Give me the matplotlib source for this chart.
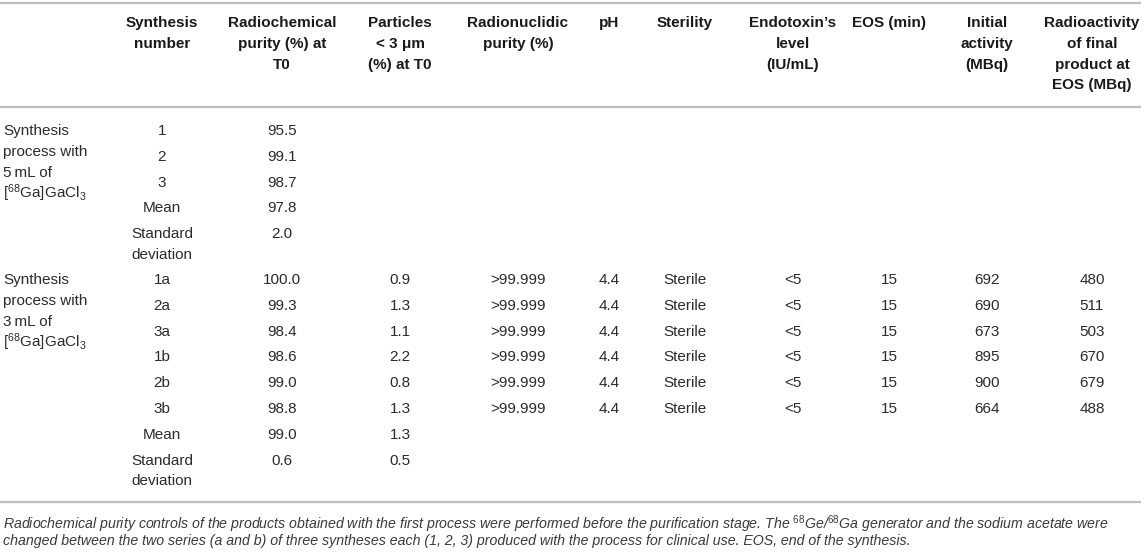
import numpy as np
import matplotlib.pyplot as plt

plt.rcParams['font.family'] = ['Liberation Sans', 'DejaVu Sans']
plt.rcParams['mathtext.fontset'] = 'custom'
plt.rcParams['mathtext.rm'] = 'Liberation Sans'
plt.rcParams['mathtext.it'] = 'Liberation Sans:italic'
plt.rcParams['mathtext.default'] = 'regular'

# table content
headers = ['', 'Synthesis\nnumber', 'Radiochemical\npurity (%) at\nT0', 'Particles\n< 3 \u03bcm\n(%) at T0',
           'Radionuclidic\npurity (%)', 'pH', 'Sterility', 'Endotoxin\u2019s\nlevel\n(IU/mL)', 'EOS (min)',
           'Initial\nactivity\n(MBq)', 'Radioactivity\nof final\nproduct at\nEOS (MBq)']

group_labels = ['Synthesis\nprocess with\n5\u2009mL of\n[$^{68}$Ga]GaCl$_3$',
                'Synthesis\nprocess with\n3\u2009mL of\n[$^{68}$Ga]GaCl$_3$']

g1_number = ['1', '2', '3', 'Mean', 'Standard\ndeviation']
g1_rcp = ['95.5', '99.1', '98.7', '97.8', '2.0']

g2_number = ['1a', '2a', '3a', '1b', '2b', '3b', 'Mean', 'Standard\ndeviation']
g2_rcp = ['100.0', '99.3', '98.4', '98.6', '99.0', '98.8', '99.0', '0.6']
g2_particles = ['0.9', '1.3', '1.1', '2.2', '0.8', '1.3', '1.3', '0.5']
g2_radionuclidic = ['>99.999'] * 6
g2_ph = ['4.4'] * 6
g2_sterility = ['Sterile'] * 6
g2_endotoxin = ['<5'] * 6
g2_eos = ['15'] * 6
g2_initial = ['692', '690', '673', '895', '900', '664']
g2_final = ['480', '511', '503', '670', '679', '488']

caption = ['Radiochemical purity controls of the products obtained with the first process were performed before the purification stage. '
           'The $^{\\mathit{68}}$Ge/$^{\\mathit{68}}$Ga generator and the sodium acetate were',
           'changed between the two series (a and b) of three syntheses each (1, 2, 3) produced with the process for clinical use. EOS, end of the synthesis.']

# layout (pixels)
W, H = 1144, 554
col_x = [3, 162, 282, 400, 518, 609, 685, 793, 889, 987, 1092]
rule_y = [3, 107, 502]
head_y = 23
line_pitch = 20.8
row_pitch = 25.8
g1_top = 131
g2_top = 280

fig = plt.figure(figsize=(W / 100, H / 100), dpi=100)
ax = fig.add_axes([0, 0, 1, 1])
ax.set_xlim(0, W)
ax.set_ylim(H, 0)
ax.axis('off')

fs = 11
txt_col = '#2b2b2b'
line_col = '#bdbdbd'


def put(x, y, s, ha='center', bold=False):
    # stacked lines drawn one by one so the pitch is fixed
    for i, part in enumerate(s.split('\n')):
        ax.text(x, y + i * line_pitch, part, ha=ha, va='center', fontsize=fs,
                fontweight='bold' if bold else 'normal', color='#1a1a1a' if bold else txt_col)


for y in rule_y:
    ax.plot([0, W - 3], [y, y], color=line_col, lw=1.6, solid_capstyle='butt')

for x, h in zip(col_x, headers):
    put(x, head_y, h, bold=True)

# group 1
put(col_x[0], g1_top, group_labels[0], ha='left')
for i, (n, r) in enumerate(zip(g1_number, g1_rcp)):
    y = g1_top + i * row_pitch
    put(col_x[1], y, n)
    put(col_x[2], y, r)

# group 2
put(col_x[0], g2_top, group_labels[1], ha='left')
cols2 = [g2_number, g2_rcp, g2_particles, g2_radionuclidic, g2_ph, g2_sterility,
         g2_endotoxin, g2_eos, g2_initial, g2_final]
for c, vals in enumerate(cols2):
    for i, v in enumerate(vals):
        put(col_x[c + 1], g2_top + i * row_pitch, v)

# caption
for i, line in enumerate(caption):
    ax.text(3, 524 + i * 17, line, ha='left', va='center', fontsize=10.2, style='italic',
            color='#3a3a3a')

fig.savefig('out.png', dpi=100)
